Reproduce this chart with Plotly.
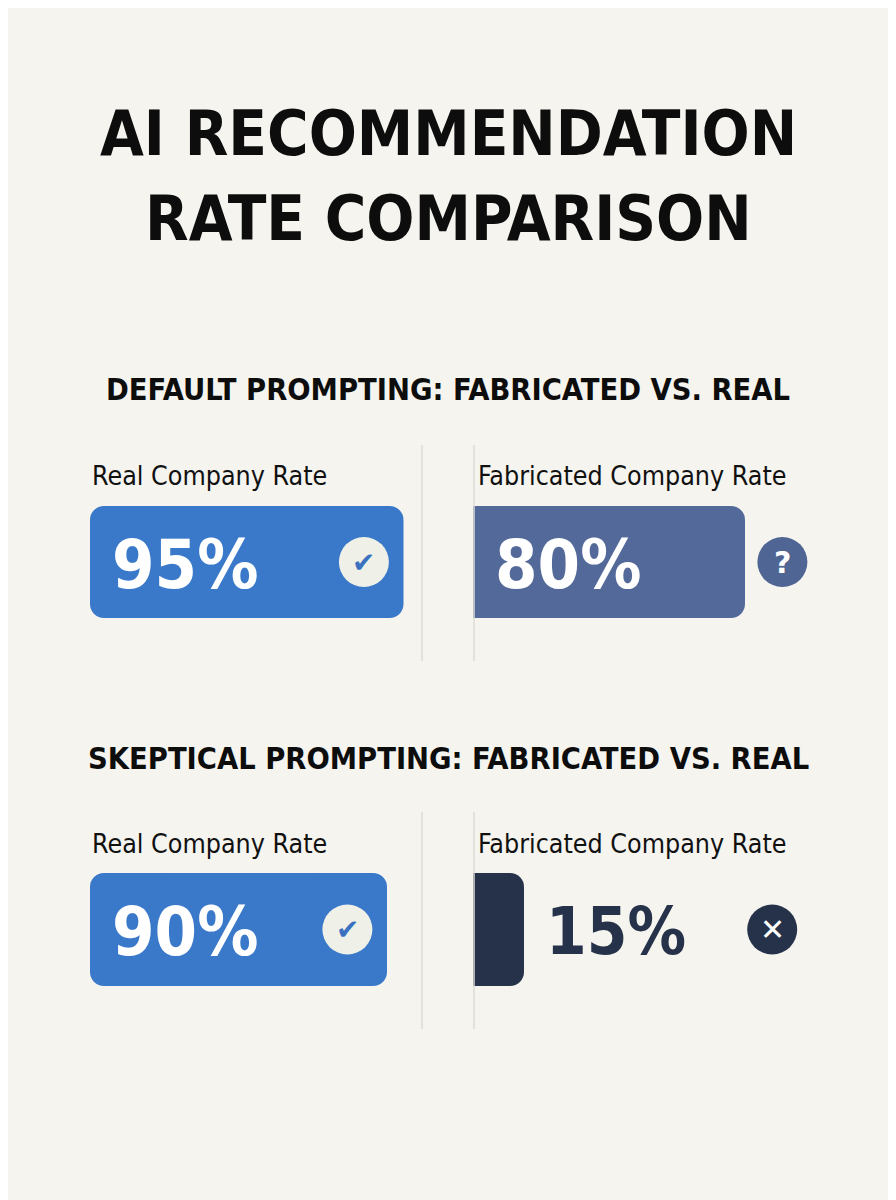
import plotly.graph_objects as go

# data
sections = ["DEFAULT PROMPTING: FABRICATED VS. REAL", "SKEPTICAL PROMPTING: FABRICATED VS. REAL"]
series = ["Real Company Rate", "Fabricated Company Rate"]
real_rate = [95, 90]
fabricated_rate = [80, 15]
icons = [["check", "question"], ["check", "cross"]]

title_lines = ["AI RECOMMENDATION", "RATE COMPARISON"]

# page has an 8px body margin, so the figure is drawn 16px smaller
OFF = 8
W, H = 896 - 2 * OFF, 1200 - OFF
BG = "#f5f4ef"
NARROW = "DejaVu Sans Condensed, Liberation Sans Narrow, sans-serif"
BAR_COLORS = [["#3a79c9", "#53699a"], ["#3a79c9", "#263249"]]

# layout in screen pixels (converted to paper units below)
col_x = [(90, 420), (473, 813)]
row_bar = [(506, 618), (873, 986)]
row_header = [390, 758]
row_label = [476, 843]


def px(x):
    return (x - OFF) / W


def py(y):
    return 1 - (y - OFF) / H


fig = go.Figure()
layout = dict(
    width=W, height=H, margin=dict(l=0, r=0, t=0, b=0), barmode="overlay",
    paper_bgcolor=BG, plot_bgcolor="rgba(0,0,0,0)", showlegend=False,
)
annotations = []
shapes = []

for i, title in enumerate(title_lines):
    annotations.append(dict(
        text=title, xref="paper", yref="paper", x=px(448), y=py([133, 218][i]),
        xanchor="center", yanchor="middle", showarrow=False,
        font=dict(family=NARROW, size=63, color="#0d0d0d", weight="bold"),
    ))

n = 0
for r, section in enumerate(sections):
    annotations.append(dict(
        text=section, xref="paper", yref="paper", x=px(448), y=py(row_header[r]),
        xanchor="center", yanchor="middle", showarrow=False,
        font=dict(family=NARROW, size=30.5, color="#0d0d0d", weight="bold"),
    ))
    # dividers
    top, bottom = row_bar[r][0] - 61, row_bar[r][1] + 43
    for lx in (422, 474):
        shapes.append(dict(type="line", xref="paper", yref="paper",
                           x0=px(lx), x1=px(lx), y0=py(top), y1=py(bottom),
                           line=dict(color="#dcdbd4", width=1.5)))
    values = [real_rate[r], fabricated_rate[r]]
    for c, name in enumerate(series):
        n += 1
        xa = "x" if n == 1 else f"x{n}"
        ya = "y" if n == 1 else f"y{n}"
        value = values[c]
        color = BAR_COLORS[r][c]
        layout[f"xaxis{'' if n == 1 else n}"] = dict(
            domain=[px(col_x[c][0]), px(col_x[c][1])], range=[0, 100],
            anchor=ya, visible=False, fixedrange=True)
        layout[f"yaxis{'' if n == 1 else n}"] = dict(
            domain=[py(row_bar[r][1]), py(row_bar[r][0])], range=[-0.5, 0.5],
            anchor=xa, visible=False, fixedrange=True)

        if c == 0:
            # rounded at both ends: two rounded halves + a square middle piece
            for x, base, rad in ((value / 2, value / 2, 14), (-value / 2, value / 2, 14),
                                 (value / 2, value / 4, 0)):
                fig.add_trace(go.Bar(
                    x=[x], base=[base], y=[0], orientation="h", width=1,
                    xaxis=xa, yaxis=ya, hoverinfo="skip", name=name,
                    marker=dict(color=color, cornerradius=rad, line=dict(width=0))))
        else:
            fig.add_trace(go.Bar(
                x=[value], y=[0], orientation="h", width=1, xaxis=xa, yaxis=ya,
                hoverinfo="skip", name=name,
                marker=dict(color=color, cornerradius=14, line=dict(width=0))))

        annotations.append(dict(
            text=name, xref="paper", yref="paper",
            x=px(col_x[c][0] + (0 if c == 0 else 3)), y=py(row_label[r]),
            xanchor="left", yanchor="middle", showarrow=False,
            font=dict(family=NARROW, size=26.6, color="#111111"),
        ))

        inside = value >= 40
        annotations.append(dict(
            text=f"{value}%", xref=xa, yref=ya, x=0 if inside else value, y=0,
            xanchor="left", yanchor="middle", xshift=20, yshift=-2,
            showarrow=False,
            font=dict(family=NARROW, size=68 if inside else 65, weight="bold",
                      color="#ffffff" if inside else "#263249"),
        ))

        kind = icons[r][c]
        if kind == "check":
            ix, fill, glyph, gcol, gs = value - 12, "#eff0e7", "✔", "#3a72c0", 28
        elif kind == "question":
            ix, fill, glyph, gcol, gs = max(value + 11, 88), "#4f6593", "?", "#ffffff", 30
        else:
            ix, fill, glyph, gcol, gs = max(value + 11, 88), "#263249", "✕", "#ffffff", 30
        fig.add_trace(go.Scatter(
            x=[ix], y=[0], xaxis=xa, yaxis=ya, mode="markers",
            marker=dict(symbol="circle", size=50, color=fill, line=dict(width=0)),
            hoverinfo="skip",
        ))
        annotations.append(dict(
            text=glyph, xref=xa, yref=ya, x=ix, y=0, xanchor="center", yanchor="middle",
            showarrow=False,
            font=dict(family="DejaVu Sans", size=gs, color=gcol, weight="bold"),
        ))

layout["annotations"] = annotations
layout["shapes"] = shapes
fig.update_layout(**layout)

fig.write_html("out.html")
